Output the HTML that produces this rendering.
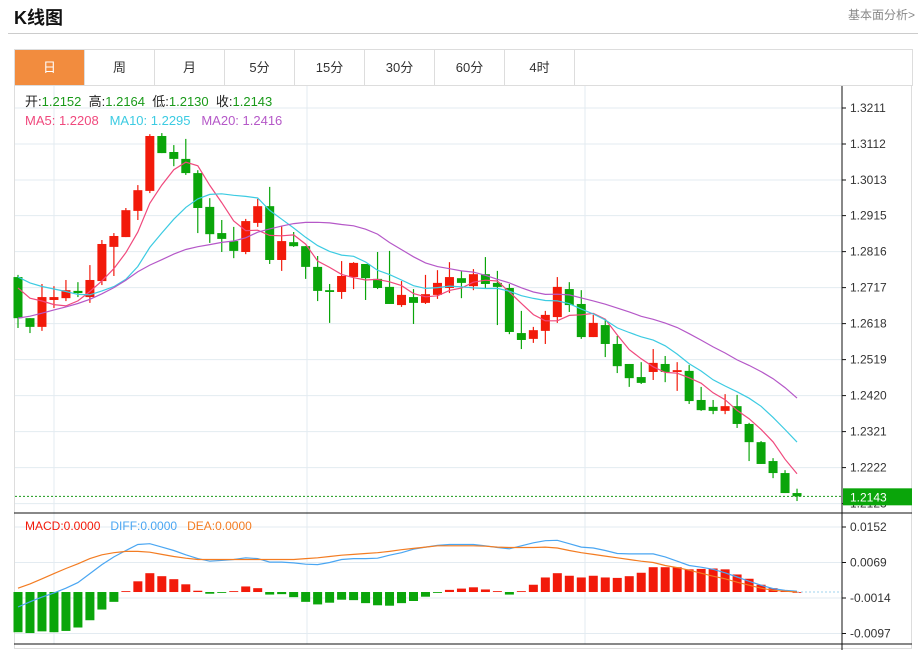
<!DOCTYPE html>
<html><head><meta charset="utf-8">
<style>
body{margin:0;background:#fff;font-family:"Liberation Sans","Noto Sans CJK SC",sans-serif;}
#wrap{position:relative;width:921px;height:650px;overflow:hidden;}
.title{position:absolute;left:14px;top:4px;font-size:18px;font-weight:bold;color:#111;}
.more{position:absolute;right:6px;top:6px;font-size:12px;color:#888;}
.hr{position:absolute;left:8px;top:33px;width:910px;height:1px;background:#ccc;}
.tabs{position:absolute;left:14px;top:49px;width:897px;height:35px;border:1px solid #ddd;display:flex;}
.tab{width:69px;border-right:1px solid #ddd;text-align:center;line-height:35px;font-size:13px;color:#333;}
.tab.active{background:#f28c3e;color:#fff;}
svg{position:absolute;left:0;top:0;}
</style></head><body>
<div id="wrap">
<div class="title">K线图</div>
<div class="more">基本面分析&gt;</div>
<div class="hr"></div>
<div class="tabs">
<div class="tab active">日</div>
<div class="tab">周</div>
<div class="tab">月</div>
<div class="tab">5分</div>
<div class="tab">15分</div>
<div class="tab">30分</div>
<div class="tab">60分</div>
<div class="tab">4时</div>
</div>
<svg id="chart" width="921" height="650"></svg>
</div>
<script>
const openP=[1.2746,1.2633,1.2609,1.2683,1.2688,1.2708,1.2691,1.2735,1.2829,1.2856,1.2928,1.2983,1.3134,1.3090,1.3071,1.3032,1.2939,1.2867,1.2845,1.2815,1.2895,1.2941,1.2793,1.2842,1.2831,1.2774,1.2710,1.2705,1.2746,1.2782,1.2741,1.2719,1.2669,1.2691,1.2675,1.2697,1.2716,1.2743,1.2721,1.2754,1.2730,1.2716,1.2592,1.2576,1.2598,1.2636,1.2713,1.2672,1.2581,1.2614,1.2562,1.2507,1.2471,1.2485,1.2507,1.2485,1.2488,1.2408,1.2389,1.2378,1.2391,1.2342,1.2292,1.2240,1.2207,1.2152];
const closeP=[1.2633,1.2609,1.2691,1.2691,1.2710,1.2702,1.2738,1.2837,1.2859,1.2930,1.2985,1.3134,1.3087,1.3071,1.3032,1.2936,1.2864,1.2851,1.2818,1.2900,1.2941,1.2793,1.2845,1.2831,1.2774,1.2708,1.2705,1.2749,1.2785,1.2743,1.2716,1.2672,1.2697,1.2675,1.2699,1.2730,1.2746,1.2730,1.2754,1.2727,1.2719,1.2595,1.2573,1.2600,1.2642,1.2719,1.2669,1.2581,1.2620,1.2562,1.2501,1.2468,1.2455,1.2510,1.2485,1.2490,1.2405,1.2380,1.2378,1.2391,1.2342,1.2292,1.2232,1.2207,1.2152,1.2143];
const highP=[1.2752,1.2633,1.2727,1.2721,1.2738,1.2732,1.2779,1.2848,1.2867,1.2936,1.2999,1.3139,1.3142,1.3109,1.3126,1.3040,1.2963,1.2903,1.2884,1.2906,1.2961,1.2994,1.2886,1.2870,1.2831,1.2804,1.2727,1.2790,1.2787,1.2782,1.2815,1.2818,1.2735,1.2713,1.2752,1.2765,1.2787,1.2763,1.2768,1.2801,1.2763,1.2727,1.2653,1.2609,1.2653,1.2746,1.2732,1.2710,1.2642,1.2631,1.2584,1.2507,1.2512,1.2548,1.2529,1.2512,1.2504,1.2444,1.2408,1.2424,1.2422,1.2345,1.2295,1.2248,1.2215,1.2164];
const lowP=[1.2606,1.2592,1.2598,1.2661,1.2680,1.2691,1.2675,1.2724,1.2749,1.2856,1.2903,1.2977,1.3087,1.3051,1.3027,1.2867,1.2840,1.2815,1.2798,1.2809,1.2884,1.2782,1.2763,1.2829,1.2741,1.2680,1.2620,1.2686,1.2713,1.2683,1.2713,1.2672,1.2664,1.2617,1.2672,1.2686,1.2702,1.2688,1.2710,1.2716,1.2614,1.2589,1.2548,1.2565,1.2562,1.2620,1.2650,1.2576,1.2581,1.2526,1.2482,1.2444,1.2452,1.2463,1.2457,1.2433,1.2397,1.2378,1.2369,1.2369,1.2331,1.2240,1.2232,1.2193,1.2152,1.2130];
const priorCloses=[1.2500,1.2530,1.2510,1.2540,1.2520,1.2505,1.2535,1.2515,1.2525,1.2520,1.2770,1.2790,1.2760,1.2780,1.2780,1.2750,1.2730,1.2740,1.2728];
const priceTicks=["1.3211","1.3112","1.3013","1.2915","1.2816","1.2717","1.2618","1.2519","1.2420","1.2321","1.2222","1.2123"];
const macdHist=[-0.0094,-0.0096,-0.0092,-0.0094,-0.0091,-0.0083,-0.0066,-0.0041,-0.0023,0.0002,0.0025,0.0044,0.0037,0.0030,0.0018,0.0003,-0.0004,-0.0002,0.0002,0.0013,0.0009,-0.0006,-0.0005,-0.0012,-0.0023,-0.0029,-0.0025,-0.0018,-0.0019,-0.0026,-0.0031,-0.0032,-0.0026,-0.0021,-0.0011,-0.0002,0.0005,0.0008,0.0011,0.0006,0.0002,-0.0006,0.0002,0.0017,0.0034,0.0044,0.0038,0.0034,0.0038,0.0034,0.0033,0.0037,0.0045,0.0058,0.0058,0.0058,0.0053,0.0054,0.0055,0.0053,0.0041,0.0031,0.0017,0.0009,0.0003,0.0000];
const diffV=[-0.0035,-0.0023,-0.0012,-0.0002,0.0009,0.0022,0.0043,0.0064,0.0082,0.0097,0.0111,0.0113,0.0105,0.0097,0.0087,0.0078,0.0072,0.0074,0.0076,0.0080,0.0078,0.0070,0.0070,0.0068,0.0065,0.0064,0.0069,0.0076,0.0078,0.0078,0.0079,0.0086,0.0092,0.0100,0.0105,0.0109,0.0111,0.0111,0.0111,0.0108,0.0104,0.0101,0.0108,0.0115,0.0120,0.0121,0.0113,0.0105,0.0103,0.0097,0.0090,0.0089,0.0089,0.0089,0.0082,0.0072,0.0062,0.0058,0.0053,0.0045,0.0035,0.0025,0.0016,0.0008,0.0004,0.0002];
const deaV=[0.0009,0.0019,0.0031,0.0043,0.0055,0.0066,0.0078,0.0087,0.0092,0.0095,0.0095,0.0093,0.0088,0.0083,0.0079,0.0076,0.0076,0.0076,0.0076,0.0076,0.0076,0.0076,0.0076,0.0076,0.0078,0.0080,0.0083,0.0086,0.0088,0.0090,0.0092,0.0095,0.0099,0.0102,0.0105,0.0108,0.0108,0.0108,0.0108,0.0107,0.0105,0.0104,0.0104,0.0104,0.0105,0.0103,0.0097,0.0092,0.0088,0.0084,0.0080,0.0076,0.0072,0.0069,0.0062,0.0057,0.0051,0.0044,0.0037,0.0031,0.0023,0.0016,0.0009,0.0004,0.0002,0.0000];
const macdTicks=[0.0152,0.0069,-0.0014,-0.0097];

const NS="http://www.w3.org/2000/svg";
const svg=document.getElementById('chart');
const L=15,R=842,TOP=86,SEP=513,BOT=644;
const xAt=i=>18+i*11.985;
const yP=p=>108+(1.3211-p)*3636;
const yM=v=>527+(0.0152-v)*4277;
function mk(tag,attrs){const e=document.createElementNS(NS,tag);for(const k in attrs)e.setAttribute(k,attrs[k]);svg.appendChild(e);return e;}

// frame
let fr=mk('rect',{x:14.5,y:85.5,width:897,height:563,fill:'none',stroke:'#ddd'});


// grid
priceTicks.forEach(t=>{const y=yP(parseFloat(t));if(y>TOP&&y<SEP){const g=mk('line',{x1:L,x2:R,y1:y,y2:y,stroke:'#e3ebf1'});

}});
macdTicks.forEach(v=>{const y=yM(v);const g=mk('line',{x1:L,x2:R,y1:y,y2:y,stroke:'#e3ebf1'});

});
[54,307,585].forEach(x=>{const g=mk('line',{x1:x,x2:x,y1:TOP,y2:BOT,stroke:'#e3ebf1'});

});

// candles
const UP='#f21a0a',DN='#0aa50a';
for(let i=0;i<openP.length;i++){
 const x=xAt(i),up=closeP[i]>=openP[i],c=up?UP:DN;
 const w=mk('line',{x1:x,x2:x,y1:yP(highP[i]),y2:yP(lowP[i]),stroke:c,'stroke-width':1.2});
 
 
 const t=yP(Math.max(openP[i],closeP[i])),b=yP(Math.min(openP[i],closeP[i]));
 const r=mk('rect',{x:x-4.5,y:t,width:9,height:Math.max(1.5,b-t),fill:c});
 
 
}
// MAs
const allC=priorCloses.concat(closeP);
function ma(n){const out=[];for(let i=0;i<closeP.length;i++){let s=0;const k=i+priorCloses.length;for(let j=k-n+1;j<=k;j++)s+=allC[j];out.push(s/n);}return out;}
[[5,'#f0497d','ma5-line'],[10,'#3ccbe2','ma10-line'],[20,'#b558c8','ma20-line']].forEach(([n,col,name])=>{
 const v=ma(n);const pts=v.map((p,i)=>xAt(i).toFixed(1)+','+yP(p).toFixed(1)).join(' ');
 const pl=mk('polyline',{points:pts,fill:'none',stroke:col,'stroke-width':1.2});
 
 
});
// last price dotted
const lastY=yP(closeP[closeP.length-1]);
const dl=mk('line',{x1:L,x2:R,y1:lastY,y2:lastY,stroke:'#1a9a1a','stroke-dasharray':'2,2'});



// MACD bars
macdHist.forEach((v,i)=>{const x=xAt(i);const y0=yM(0),y1=yM(v);
 const r=mk('rect',{x:x-4.5,y:Math.min(y0,y1),width:9,height:Math.max(0.8,Math.abs(y1-y0)),fill:v>=0?UP:DN});
 
 });
const zl=mk('line',{x1:xAt(macdHist.length-1),x2:R,y1:yM(0),y2:yM(0),stroke:'#9fd3ee','stroke-dasharray':'2,2'});


[[diffV,'#4aa6f2','diff-line'],[deaV,'#f37c22','dea-line']].forEach(([arr,col,name])=>{
 const pl=mk('polyline',{points:arr.map((v,i)=>xAt(i).toFixed(1)+','+yM(v).toFixed(1)).join(' '),fill:'none',stroke:col,'stroke-width':1.2});
 
 });

// axes
[[R,TOP,R,650],[14,SEP,R+70,SEP],[14,BOT,R+70,BOT]].forEach(a=>{const l=mk('line',{x1:a[0],y1:a[1],x2:a[2],y2:a[3],stroke:'#111'});

});
priceTicks.forEach(t=>{const y=yP(parseFloat(t));if(y<SEP){mk('line',{x1:R,x2:R+4,y1:y,y2:y,stroke:'#111'});
const tx=mk('text',{x:850,y:y+4,'font-size':12,fill:'#333'});tx.textContent=t;

}});
macdTicks.forEach(v=>{const y=yM(v);mk('line',{x1:R,x2:R+4,y1:y,y2:y,stroke:'#111'});
const tx=mk('text',{x:850,y:y+4,'font-size':12,fill:'#333'});tx.textContent=(v<0?'-':'')+Math.abs(v).toFixed(4);

});
// last price label
const lb=mk('rect',{x:843,y:lastY-8,width:69,height:17,fill:'#0aa50a'});


const lt=mk('text',{x:850,y:lastY+5,'font-size':12,fill:'#fff'});lt.textContent=closeP[closeP.length-1].toFixed(4);



// legends
function legend(y,parts,name){const t=mk('text',{x:25,y:y,'font-size':13});


parts.forEach(([s,c])=>{const sp=document.createElementNS(NS,'tspan');sp.setAttribute('fill',c);sp.textContent=s;t.appendChild(sp);});}
legend(106,[['开:','#222'],['1.2152  ','#1a9a1a'],['高:','#222'],['1.2164  ','#1a9a1a'],['低:','#222'],['1.2130  ','#1a9a1a'],['收:','#222'],['1.2143','#1a9a1a']],'ohlc-legend');
svg.lastChild.setAttribute('xml:space','preserve');svg.lastChild.style.whiteSpace='pre';
legend(125,[['MA5: 1.2208   ','#f0497d'],['MA10: 1.2295   ','#3ccbe2'],['MA20: 1.2416','#b558c8']],'ma-legend');
svg.lastChild.style.whiteSpace='pre';
legend(530,[['MACD:0.0000   ','#f21a0a'],['DIFF:0.0000   ','#4aa6f2'],['DEA:0.0000','#f37c22']],'macd-legend');
svg.lastChild.style.whiteSpace='pre';svg.lastChild.setAttribute('font-size','12');
</script>
</body></html>
